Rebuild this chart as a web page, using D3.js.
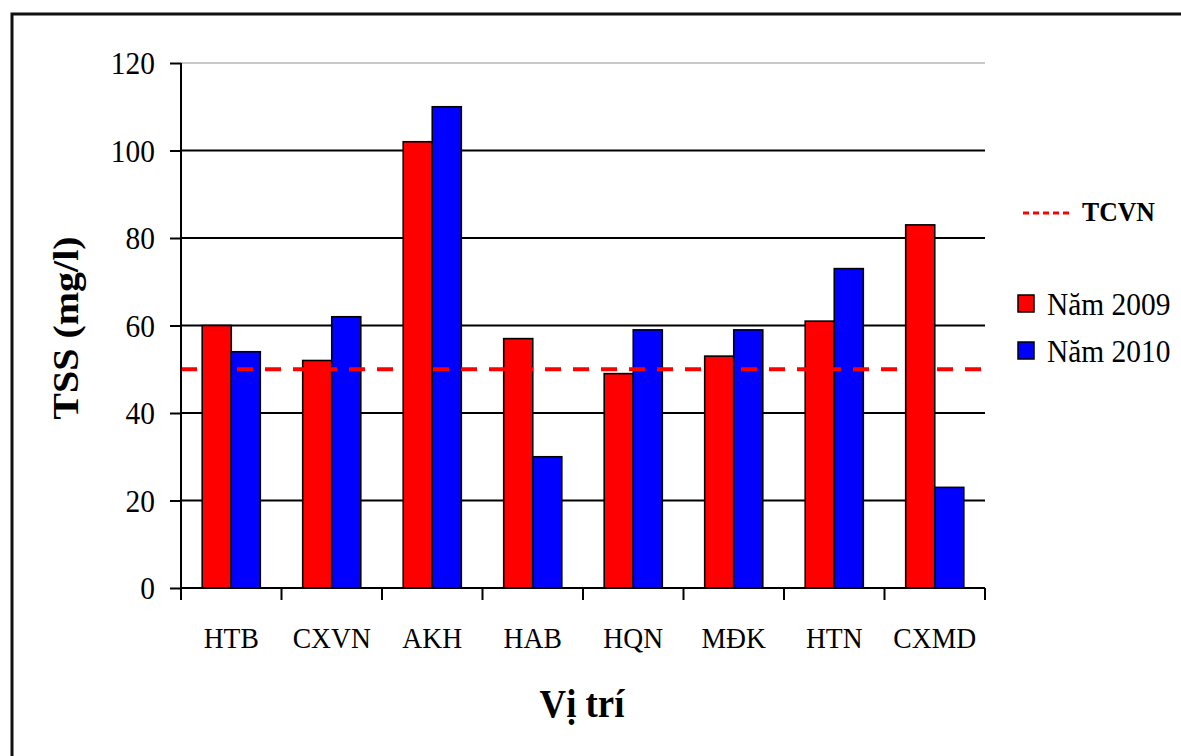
<!DOCTYPE html>
<html>
<head>
<meta charset="utf-8">
<script src="https://cdn.jsdelivr.net/npm/d3@7"></script>
<style>
  html, body { margin: 0; padding: 0; background: #fff; }
  svg { display: block; }
</style>
</head>
<body>
<svg id="chart" width="1181" height="756"></svg>
<script>
// TSS at each monitoring site, 2009 vs 2010, with the TCVN limit
const sites = ["HTB", "CXVN", "AKH", "HAB", "HQN", "MĐK", "HTN", "CXMD"];
const series = ["Năm 2009", "Năm 2010"];
const tss2009 = [60, 52, 102, 57, 49, 53, 61, 83];
const tss2010 = [54, 62, 110, 30, 59, 59, 73, 23];
const tcvnLimit = 50;
const yTicks = [0, 20, 40, 60, 80, 100, 120];
const seriesColors = ["#ff0000", "#0000ff"];

const FONT = "'Liberation Serif', 'Times New Roman', 'DejaVu Serif', serif";
const svg = d3.select("#chart").attr("font-family", FONT);
const squeeze = 0.92; // narrow serif look

// outer frame
svg.append("rect")
  .attr("x", 12).attr("y", 14)
  .attr("width", 1200).attr("height", 800)
  .attr("fill", "none").attr("stroke", "#111").attr("stroke-width", 3);

const plot = { left: 181, right: 985, top: 63, bottom: 588 };

const y = d3.scaleLinear().domain([0, 120]).range([plot.bottom, plot.top]);
const x0 = d3.scaleBand().domain(sites).range([plot.left, plot.right]).padding(0);
const x1 = d3.scaleBand().domain(series).range([0, x0.bandwidth()])
  .paddingInner(0).paddingOuter(0.73);

// horizontal gridlines
const grid = svg.append("g");
yTicks.filter(v => v > 0).forEach(v => {
  grid.append("line")
    .attr("x1", plot.left).attr("x2", plot.right)
    .attr("y1", y(v)).attr("y2", y(v))
    .attr("stroke", v === 120 ? "#c8c8c8" : "#000")
    .attr("stroke-width", 2);
});

// bars
const rows = sites.map((s, i) => ({ site: s, values: [tss2009[i], tss2010[i]] }));
const groups = svg.append("g").selectAll("g")
  .data(rows).join("g")
  .attr("transform", d => `translate(${x0(d.site)},0)`);
groups.selectAll("rect")
  .data(d => d.values.map((v, k) => ({ key: series[k], value: v, k })))
  .join("rect")
  .attr("x", d => x1(d.key))
  .attr("width", x1.bandwidth())
  .attr("y", d => y(d.value))
  .attr("height", d => y(0) - y(d.value))
  .attr("fill", d => seriesColors[d.k])
  .attr("stroke", "#000")
  .attr("stroke-width", 1.6);

// TCVN limit line
svg.append("line")
  .attr("x1", plot.left).attr("x2", plot.right)
  .attr("y1", y(tcvnLimit)).attr("y2", y(tcvnLimit))
  .attr("stroke", "#ff0000").attr("stroke-width", 4)
  .attr("stroke-dasharray", "16,12");

// helper for horizontally narrowed serif text
function label(parent, x, yy, str, size, opts = {}) {
  const g = parent.append("g")
    .attr("transform", `translate(${x},${yy})${opts.rotate ? " rotate(-90) scale(1," + squeeze + ")" : " scale(" + squeeze + ",1)"}`);
  return g.append("text")
    .attr("font-family", FONT)
    .attr("font-size", size)
    .attr("font-weight", opts.bold ? "bold" : "normal")
    .attr("text-anchor", opts.anchor || "start")
    .attr("fill", "#000")
    .text(str);
}

// y axis
const yAxis = svg.append("g")
  .attr("transform", `translate(${plot.left},0)`)
  .call(d3.axisLeft(y).tickValues(yTicks).tickSize(11).tickFormat(d3.format("d")));
yAxis.select(".domain").attr("stroke", "#000").attr("stroke-width", 2)
  .attr("d", `M0,${plot.top}V${plot.bottom}`);
yAxis.selectAll(".tick line").attr("stroke", "#000").attr("stroke-width", 2);
yAxis.selectAll(".tick text").remove();
yAxis.selectAll(".tick").each(function (d) {
  label(d3.select(this), -26, 0, String(d), 32, { anchor: "end" }).attr("dy", "0.34em");
});

// x axis: ticks on category boundaries
const xAxisG = svg.append("g");
xAxisG.append("line")
  .attr("x1", plot.left).attr("x2", plot.right)
  .attr("y1", plot.bottom).attr("y2", plot.bottom)
  .attr("stroke", "#000").attr("stroke-width", 2);
const bounds = sites.map(s => x0(s)).concat([plot.right]);
xAxisG.selectAll("line.tick").data(bounds).join("line")
  .attr("class", "tick")
  .attr("x1", d => d).attr("x2", d => d)
  .attr("y1", plot.bottom).attr("y2", plot.bottom + 12)
  .attr("stroke", "#000").attr("stroke-width", 2);
sites.forEach(s => {
  label(xAxisG, x0(s) + x0.bandwidth() / 2, 648, s, 30, { anchor: "middle" });
});

// axis titles
label(svg, 582, 717, "Vị trí", 40, { bold: true, anchor: "middle" });
label(svg, 78, 328, "TSS (mg/l)", 40, { bold: true, anchor: "middle", rotate: true });

// legend
const legend = svg.append("g");
legend.append("line")
  .attr("x1", 1023).attr("x2", 1071)
  .attr("y1", 213).attr("y2", 213)
  .attr("stroke", "#ff0000").attr("stroke-width", 3)
  .attr("stroke-dasharray", "6,4");
label(legend, 1082, 221, "TCVN", 28, { bold: true });

const legendY = [315, 362];
series.forEach((s, k) => {
  legend.append("rect")
    .attr("x", 1018).attr("y", legendY[k] - 20)
    .attr("width", 16).attr("height", 17)
    .attr("fill", seriesColors[k])
    .attr("stroke", "#000").attr("stroke-width", 1.5);
  label(legend, 1047, legendY[k], s, 32);
});
</script>
</body>
</html>
